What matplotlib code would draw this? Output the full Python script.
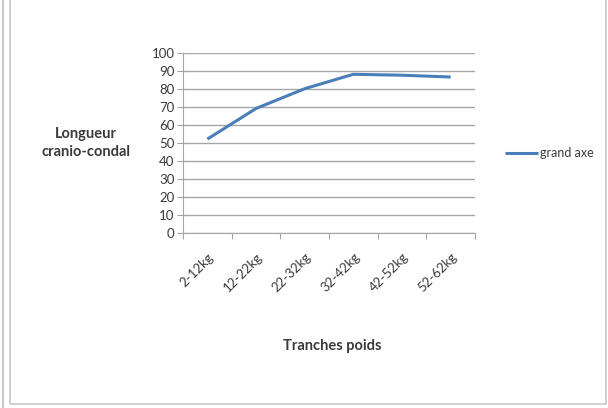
import numpy as np
import matplotlib.pyplot as plt
from matplotlib.patches import Rectangle
from matplotlib.lines import Line2D

plt.rcParams['font.family'] = ['Lato', 'DejaVu Sans']

TRANCHES = ['2-12kg', '12-22kg', '22-32kg', '32-42kg', '42-52kg', '52-62kg']
GRAND_AXE = [52, 69, 80, 88, 87.5, 86.5]
Y_TICKS = list(range(0, 101, 10))

LINE_COLOR = '#4a7ebb'
TEXT_COLOR = '#3a3a3a'
GRID_COLOR = '#a6a6a6'


def main():
    fig = plt.figure(figsize=(6.08, 4.08), dpi=100)
    fig.patch.set_facecolor('white')

    # outer frame of the chart object
    fig.add_artist(Line2D([3 / 608, 3 / 608], [0, 1], color='#c8c8c8', lw=1.5))
    fig.add_artist(Rectangle((10 / 608, 4 / 408), 596 / 608, 430 / 408,
                             fill=False, edgecolor='#c8c8c8', lw=1.2))

    ax = fig.add_axes([183 / 608, 1 - 232.7 / 408, 292 / 608, 180 / 408])
    x = np.arange(len(TRANCHES))
    line, = ax.plot(x, GRAND_AXE, color=LINE_COLOR, lw=2.2,
                    solid_capstyle='butt', label='grand axe')

    ax.set_xlim(-0.5, len(TRANCHES) - 0.5)
    ax.set_ylim(0, 100)
    ax.set_yticks(Y_TICKS)
    ax.yaxis.grid(True, color=GRID_COLOR, lw=1)
    ax.set_axisbelow(True)

    # category boundaries carry the tick marks, labels sit at bin centres
    ax.set_xticks(np.arange(-0.5, len(TRANCHES)))
    ax.set_xticklabels([])
    ax.set_xticks(x, minor=True)
    ax.set_xticklabels(TRANCHES, minor=True, rotation=45, ha='right',
                       rotation_mode='anchor', fontsize=9.5, color=TEXT_COLOR)
    ax.tick_params(axis='x', which='minor', length=0, pad=13)
    ax.tick_params(axis='x', which='major', length=4, color=GRID_COLOR)
    ax.tick_params(axis='y', length=4, color=GRID_COLOR, labelsize=9.5,
                   labelcolor=TEXT_COLOR, pad=2)

    for side in ['top', 'right']:
        ax.spines[side].set_visible(False)
    for side in ['left', 'bottom']:
        ax.spines[side].set_color(GRID_COLOR)

    fig.text(86 / 608, 1 - 143 / 408, 'Longueur\ncranio-condal', ha='center',
             va='center', fontsize=10.5, fontweight='bold', color=TEXT_COLOR,
             linespacing=1.3)
    fig.text(332 / 608, 1 - 346 / 408, 'Tranches poids', ha='center',
             va='center', fontsize=10.5, fontweight='bold', color=TEXT_COLOR)

    fig.legend(handles=[line], loc='center left',
               bbox_to_anchor=(494 / 608, 1 - 153 / 408), frameon=False,
               fontsize=9, handlelength=2.6, handletextpad=0.15,
               labelcolor=TEXT_COLOR)

    fig.savefig('out.png', dpi=100)


if __name__ == '__main__':
    main()
